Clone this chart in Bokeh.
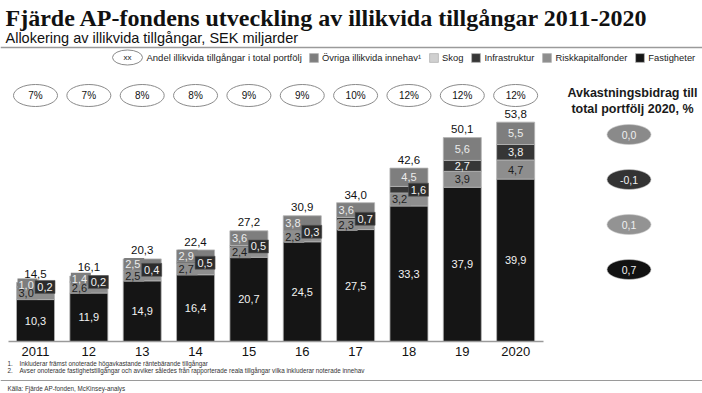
from bokeh.plotting import figure
from bokeh.models import Range1d, Label, ColumnDataSource, Legend, LegendItem
from bokeh.core.properties import value
from bokeh.embed import file_html
from bokeh.resources import INLINE

# ---------------- data ----------------
years = ["2011", "12", "13", "14", "15", "16", "17", "18", "19", "2020"]
fastigheter = [10.3, 11.9, 14.9, 16.4, 20.7, 24.5, 27.5, 33.3, 37.9, 39.9]
riskkapital = [3.0, 2.6, 2.5, 2.7, 2.4, 2.3, 2.3, 3.2, 3.9, 4.7]
infrastruktur = [0.2, 0.2, 0.4, 0.5, 0.5, 0.3, 0.7, 1.6, 2.7, 3.8]
skog = [0.0, 0.0, 0.0, 0.0, 0.0, 0.0, 0.0, 0.0, 0.0, 0.0]
ovriga = [1.0, 1.4, 2.5, 2.9, 3.6, 3.8, 3.6, 4.5, 5.6, 5.5]
totals = [14.5, 16.1, 20.3, 22.4, 27.2, 30.9, 34.0, 42.6, 50.1, 53.8]
andel = ["7%", "7%", "8%", "8%", "9%", "9%", "10%", "12%", "12%", "12%"]
bidrag_series = ["Övriga", "Infrastruktur", "Riskkapitalfonder", "Fastigheter"]
bidrag = [0.0, -0.1, 0.1, 0.7]

# ---------------- layout helpers ----------------
W, H = 702, 393
X0, DX = 35.0, 53.35    # canvas x of first bar centre, spacing between bars
Y0, K = 341.0, 4.07     # canvas y of baseline, px per SEK bn

SANS = "Liberation Sans, Arial, sans-serif"

def px(X):
    return (X - X0) / DX

def py(Y):
    return (Y0 - Y) / K

def fmt(v):
    return f"{v:.1f}".replace(".", ",")

p = figure(width=W, height=H, x_range=Range1d(-X0 / DX, (W - X0) / DX),
           y_range=Range1d((Y0 - H) / K, Y0 / K), min_border=0,
           toolbar_location=None, output_backend="svg",
           x_axis_location=None, y_axis_location=None)
p.grid.visible = False
p.outline_line_color = None
p.background_fill_color = "white"

n = len(years)
xs = list(range(n))
bw = 38 / DX

# ---------------- stacked bars ----------------
names = ["Fastigheter", "Riskkapitalfonder", "Infrastruktur", "Skog", "Ovriga"]
colors = ["#151515", "#8e8e8e", "#363636", "#d0d0d0", "#7e7e7e"]
src = ColumnDataSource(dict(x=xs, Fastigheter=fastigheter, Riskkapitalfonder=riskkapital,
                            Infrastruktur=infrastruktur, Skog=skog, Ovriga=ovriga))
rs = p.vbar_stack(names, x="x", width=bw, source=src, fill_color=colors,
                  line_color="#b4b4b4", line_width=0.8)

# axis line
p.line([px(8), px(543)], [0, 0], line_color="#9a9a9a", line_width=1.6)

# ---------------- segment labels ----------------
FS = "11px"
side = [i < 2.0 for i in infrastruktur]
left_off = -17 / DX
box_off = -8 / DX

rmid = [f + r / 2 for f, r in zip(fastigheter, riskkapital)]
omid = [f + r + i + s + o / 2 for f, r, i, s, o in zip(fastigheter, riskkapital, infrastruktur, skog, ovriga)]
imid = [f + r + i / 2 for f, r, i in zip(fastigheter, riskkapital, infrastruktur)]
oside = [side[i] and ovriga[i] < 4 for i in range(n)]

# label background boxes for small side-placed segments
ridx = [i for i in range(n) if side[i]]
p.rect([xs[i] + box_off for i in ridx], [rmid[i] for i in ridx], width=20 / DX, height=12 / K,
       fill_color=colors[1], line_color=None)
oidx = [i for i in range(n) if oside[i]]
p.rect([xs[i] + box_off for i in oidx], [omid[i] for i in oidx], width=20 / DX, height=12 / K,
       fill_color=colors[4], line_color=None)
iidx = [i for i in range(n) if side[i]]
bx = [xs[i] + 9.5 / DX for i in iidx]
p.rect(bx, [imid[i] for i in iidx], width=20 / DX, height=13 / K,
       fill_color="#2c2c2c", line_color="#555555", line_width=0.6)

p.text(xs, [f / 2 for f in fastigheter], text=[fmt(v) for v in fastigheter],
       text_color="#f2f2f2", text_font=value(SANS), text_font_size=FS,
       text_align="center", text_baseline="middle")

for flag, align in ((True, "left"), (False, "center")):
    idx = [i for i in range(n) if side[i] == flag]
    p.text([xs[i] + (left_off if flag else 0) for i in idx], [rmid[i] for i in idx],
           text=[fmt(riskkapital[i]) for i in idx], text_color="#1e1e1e",
           text_font=value(SANS), text_font_size=FS, text_align=align,
           text_baseline="middle")

for flag, align in ((True, "left"), (False, "center")):
    idx = [i for i in range(n) if oside[i] == flag]
    p.text([xs[i] + (left_off if flag else 0) for i in idx], [omid[i] for i in idx],
           text=[fmt(ovriga[i]) for i in idx], text_color="#ececec",
           text_font=value(SANS), text_font_size=FS, text_align=align,
           text_baseline="middle")

p.text(bx, [imid[i] for i in iidx], text=[fmt(infrastruktur[i]) for i in iidx],
       text_color="#f2f2f2", text_font=value(SANS), text_font_size=FS,
       text_align="center", text_baseline="middle")
idx = [i for i in range(n) if not side[i]]
p.text([xs[i] for i in idx], [imid[i] for i in idx], text=[fmt(infrastruktur[i]) for i in idx],
       text_color="#f2f2f2", text_font=value(SANS), text_font_size=FS,
       text_align="center", text_baseline="middle")

# totals
p.text(xs, [t + 4.5 / K for t in totals], text=[fmt(t) for t in totals],
       text_color="#111111", text_font=value(SANS), text_font_size="11.5px",
       text_align="center", text_baseline="bottom")

# year labels
p.text(xs, [py(351)] * n, text=years, text_color="#111111", text_font=value(SANS),
       text_font_size="13px", text_align="center", text_baseline="middle")

# share ellipses
p.ellipse(xs, [py(95)] * n, width=44 / DX, height=22 / K, fill_color="white",
          line_color="#8a8a8a", line_width=1)
p.text(xs, [py(95)] * n, text=andel, text_color="#111111", text_font=value(SANS),
       text_font_size="10px", text_align="center", text_baseline="middle")

# ---------------- right panel ----------------
for txt, yy in (("Avkastningsbidrag till", 92), ("total portfölj 2020, %", 108)):
    p.add_layout(Label(x=px(632), y=py(yy), text=txt, text_font=SANS, text_font_style="bold",
                       text_font_size="12.5px", text_color="#1a1a1a", text_align="center",
                       text_baseline="middle"))
bcol = {"Övriga": "#8a8a8a", "Infrastruktur": "#333333", "Riskkapitalfonder": "#939393",
        "Fastigheter": "#121212"}
by = [py(v) for v in (134, 179, 224, 269)]
p.ellipse([px(628.5)] * 4, by, width=44 / DX, height=20 / K,
          fill_color=[bcol[s] for s in bidrag_series], line_color="#c8c8c8", line_width=0.6)
p.text([px(628.5)] * 4, by, text=[fmt(v) for v in bidrag], text_color="#f0f0f0",
       text_font=value(SANS), text_font_size="10.5px", text_align="center", text_baseline="middle")

# ---------------- legend ----------------
p.ellipse([px(127)], [py(57)], width=30 / DX, height=15 / K, fill_color="white",
          line_color="#8a8a8a", line_width=1)
p.add_layout(Label(x=px(127), y=py(57), text="xx", text_font=SANS, text_font_size="8px",
                   text_align="center", text_baseline="middle", text_color="#222222"))
p.add_layout(Label(x=px(146), y=py(57), text="Andel illikvida tillgångar i total portfölj",
                   text_font=SANS, text_font_size="9.5px", text_align="left",
                   text_baseline="middle", text_color="#222222"))
legend = Legend(items=[LegendItem(label="Övriga illikvida innehav¹", renderers=[rs[4]]),
                       LegendItem(label="Skog", renderers=[rs[3]]),
                       LegendItem(label="Infrastruktur", renderers=[rs[2]]),
                       LegendItem(label="Riskkapitalfonder", renderers=[rs[1]]),
                       LegendItem(label="Fastigheter", renderers=[rs[0]])],
                orientation="horizontal", location=(308, 330), glyph_width=11, glyph_height=11,
                label_height=11, label_standoff=3, spacing=7, padding=0, margin=0,
                border_line_color=None, background_fill_alpha=0,
                label_text_font=SANS, label_text_font_size="9.4px", label_text_color="#222222",
                label_text_baseline="middle")
p.add_layout(legend)

# ---------------- titles, rules, notes ----------------
p.add_layout(Label(x=px(5), y=py(17), text="Fjärde AP-fondens utveckling av illikvida tillgångar 2011-2020",
                   text_font="Liberation Serif, serif", text_font_style="bold", text_font_size="24px",
                   text_color="#111111", text_baseline="middle"))
p.add_layout(Label(x=px(5), y=py(37), text="Allokering av illikvida tillgångar, SEK miljarder",
                   text_font=SANS, text_font_size="14.5px", text_color="#111111",
                   text_baseline="middle"))
p.line([px(0), px(702)], [py(47), py(47)], line_color="#9a9a9a", line_width=1.5)
p.line([px(0), px(702)], [py(380), py(380)], line_color="#9a9a9a", line_width=1.2)

notes = [("1.", "Inkluderar främst onoterade högavkastande räntebärande tillgångar", 363),
         ("2.", "Avser onoterade fastighetstillgångar och avviker således från rapporterade reala tillgångar vilka inkluderar noterade innehav", 370)]
for num, txt, yy in notes:
    p.add_layout(Label(x=px(7), y=py(yy), text=num, text_font=SANS, text_font_size="6.3px",
                       text_baseline="middle", text_color="#333333"))
    p.add_layout(Label(x=px(19), y=py(yy), text=txt, text_font=SANS, text_font_size="6.3px",
                       text_baseline="middle", text_color="#333333"))
p.add_layout(Label(x=px(7), y=py(388), text="Källa: Fjärde AP-fonden, McKinsey-analys",
                   text_font=SANS, text_font_size="6.3px", text_baseline="middle",
                   text_color="#333333"))

open("out.html", "w").write(file_html(p, INLINE))
